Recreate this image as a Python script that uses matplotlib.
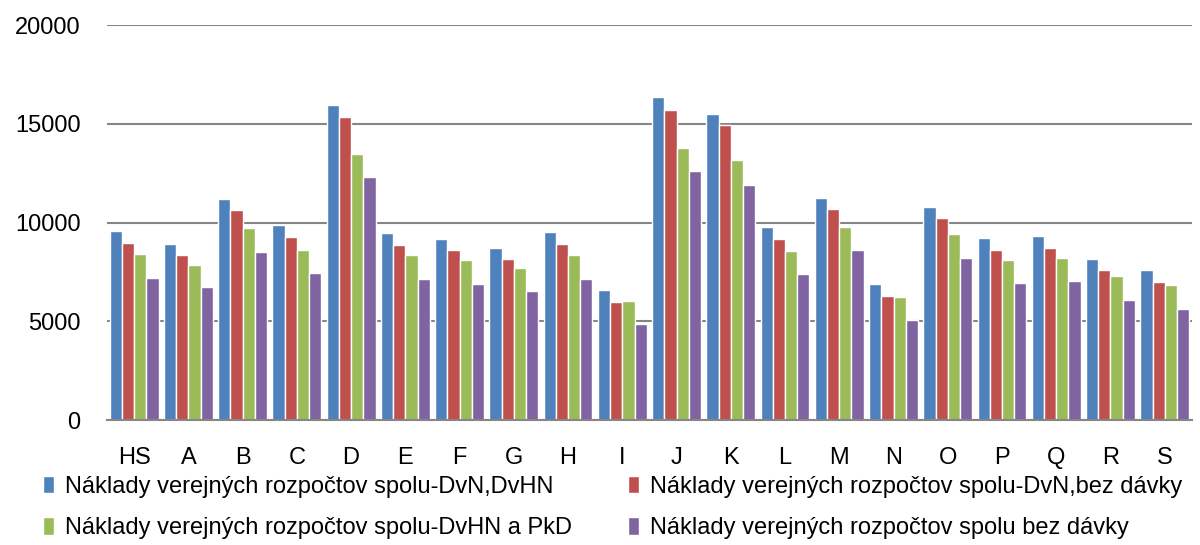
import numpy as np
import matplotlib.pyplot as plt

# --- Данные ---
categories = ['HS', 'A', 'B', 'C', 'D', 'E', 'F', 'G', 'H', 'I',
              'J', 'K', 'L', 'M', 'N', 'O', 'P', 'Q', 'R', 'S']
dvn_dvhn = [9570, 8930, 11200, 9860, 15950, 9470, 9190, 8730, 9510, 6580,
            16350, 15510, 9800, 11250, 6870, 10790, 9220, 9340, 8150, 7580]
dvn_bez_davky = [8990, 8340, 10620, 9290, 15330, 8880, 8590, 8140, 8930, 5990,
                 15720, 14940, 9190, 10680, 6270, 10220, 8630, 8730, 7580, 6990]
dvhn_pkd = [8410, 7880, 9710, 8630, 13470, 8340, 8120, 7720, 8380, 6020,
            13760, 13150, 8560, 9760, 6240, 9410, 8100, 8200, 7290, 6830]
spolu_bez_davky = [7220, 6720, 8530, 7460, 12300, 7160, 6900, 6550, 7160, 4850,
                   12600, 11930, 7410, 8590, 5080, 8200, 6930, 7040, 6090, 5630]

series_labels = ['Náklady verejných rozpočtov spolu-DvN,DvHN',
                 'Náklady verejných rozpočtov spolu-DvN,bez dávky',
                 'Náklady verejných rozpočtov spolu-DvHN a PkD',
                 'Náklady verejných rozpočtov spolu bez dávky']
colors = ['#4f81bd', '#c0504d', '#9bbb59', '#8064a2']

plt.rcParams['font.family'] = ['Liberation Sans', 'DejaVu Sans']

fig = plt.figure(figsize=(12, 5.45), dpi=100)
ax = fig.add_axes([0.0892, 0.229, 0.904, 0.725])

x = np.arange(len(categories))
step = 0.225
bars = []
for i, vals in enumerate([dvn_dvhn, dvn_bez_davky, dvhn_pkd, spolu_bez_davky]):
    b = ax.bar(x + (i - 1.5) * step, vals, width=step, color=colors[i],
               edgecolor='white', linewidth=1.0, label=series_labels[i], zorder=3)
    bars.append(b)

ax.set_xlim(-0.5, len(categories) - 0.5)
ax.set_ylim(0, 20000)
ax.set_yticks([0, 5000, 10000, 15000, 20000])
ax.set_xticks(x)
ax.set_xticklabels(categories)
ax.yaxis.grid(True, color='#868686', linewidth=1.5, zorder=0)
for s in ['top', 'right', 'left']:
    ax.spines[s].set_visible(False)
ax.spines['bottom'].set_color('#868686')
ax.spines['bottom'].set_linewidth(1.5)
ax.spines['bottom'].set_zorder(4)
ax.tick_params(axis='both', length=0, labelsize=17)
ax.tick_params(axis='x', pad=19)
ax.tick_params(axis='y', pad=19)

# порядок для ncol=2: заполнение по колонкам
handles = [bars[0], bars[2], bars[1], bars[3]]
labels = [series_labels[0], series_labels[2], series_labels[1], series_labels[3]]
fig.legend(handles, labels, ncol=2, loc='upper left',
           bbox_to_anchor=(43 / 1200, 1 - 476 / 545),
           frameon=False, fontsize=17, handlelength=0.45, handleheight=0.75,
           handletextpad=0.5, columnspacing=2.35, labelspacing=0.82,
           borderpad=0, borderaxespad=0)

plt.savefig('out.png', dpi=100)
